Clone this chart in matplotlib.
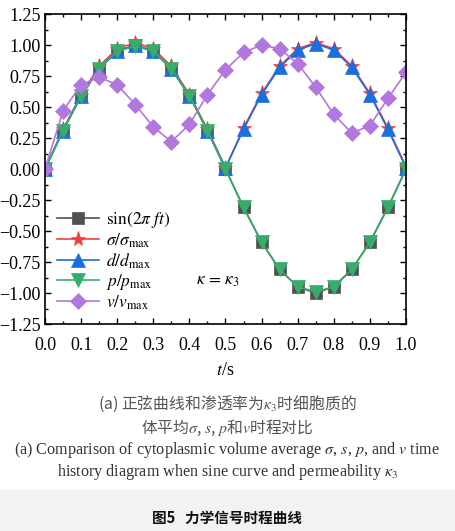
import numpy as np
import matplotlib.pyplot as plt
from matplotlib.ticker import MultipleLocator

plt.rcParams['font.family'] = ['Liberation Serif', 'DejaVu Serif']
plt.rcParams['mathtext.fontset'] = 'stix'

# time points (s)
t = [0.0, 0.05, 0.1, 0.15, 0.2, 0.25, 0.3, 0.35, 0.4, 0.45, 0.5,
     0.55, 0.6, 0.65, 0.7, 0.75, 0.8, 0.85, 0.9, 0.95, 1.0]

sin_vals = [0.0, 0.31, 0.59, 0.81, 0.95, 1.0, 0.95, 0.81, 0.59, 0.31, 0.0,
            -0.31, -0.59, -0.81, -0.95, -1.0, -0.95, -0.81, -0.59, -0.31, 0.0]
sigma = [0.0, 0.32, 0.60, 0.83, 0.97, 1.02, 0.97, 0.83, 0.60, 0.32, 0.01,
         0.33, 0.61, 0.83, 0.97, 1.02, 0.97, 0.83, 0.61, 0.33, 0.02]
d = [0.0, 0.31, 0.59, 0.81, 0.95, 1.0, 0.95, 0.81, 0.59, 0.31, 0.01,
     0.32, 0.60, 0.82, 0.96, 1.01, 0.96, 0.82, 0.60, 0.32, 0.01]
p = [0.0, 0.31, 0.59, 0.81, 0.95, 0.99, 0.95, 0.81, 0.59, 0.31, 0.0,
     -0.31, -0.59, -0.81, -0.95, -0.99, -0.95, -0.81, -0.59, -0.31, 0.0]
v = [0.0, 0.47, 0.68, 0.74, 0.68, 0.52, 0.34, 0.22, 0.36, 0.60, 0.80,
     0.94, 1.00, 0.97, 0.85, 0.66, 0.44, 0.29, 0.35, 0.57, 0.78]

labels = [r'$\sin(2\pi\ ft)$', r'$\sigma/\sigma_{\rm max}$', r'$d/d_{\rm max}$',
          r'$p/p_{\rm max}$', r'$v/v_{\rm max}$']
colors = ['#515151', '#F14040', '#1A6FDF', '#37AD6B', '#B177DE']
markers = ['s', '*', '^', 'v', 'D']
msizes = [8, 11, 9.5, 9.5, 8]

fig = plt.figure(figsize=(4.55, 5.31), dpi=100)
ax = fig.add_axes([0.0989, 0.3898, 0.7934, 0.5838])

for y, lab, c, m, ms in zip([sin_vals, sigma, d, p, v], labels, colors, markers, msizes):
    ax.plot(t, y, color=c, marker=m, markersize=ms, lw=1.2, label=lab,
            markeredgewidth=0.5, markeredgecolor=c)

ax.set_xlim(0, 1.0)
ax.set_ylim(-1.25, 1.25)
ax.xaxis.set_major_locator(MultipleLocator(0.1))
ax.xaxis.set_minor_locator(MultipleLocator(0.05))
ax.yaxis.set_major_locator(MultipleLocator(0.25))
ax.yaxis.set_minor_locator(MultipleLocator(0.125))
ax.xaxis.set_major_formatter(plt.FuncFormatter(lambda val, pos: f'{val:.1f}'))
ax.yaxis.set_major_formatter(plt.FuncFormatter(lambda val, pos: f'{val:.2f}'.replace('-', '\u2212')))
ax.tick_params(which='both', direction='in', top=True, right=True, labelsize=13, width=1)
ax.tick_params(axis='x', pad=9)
ax.tick_params(axis='y', pad=3)
ax.tick_params(which='major', length=4)
ax.tick_params(which='minor', length=2.5)
for s in ax.spines.values():
    s.set_linewidth(1.2)

ax.set_xlabel(r'$t$/s', fontsize=13, labelpad=6)
ax.text(0.48, -0.9, r'$\kappa\,=\,\kappa_3$', fontsize=12.5, ha='center', va='center')

ax.legend(loc='lower left', bbox_to_anchor=(0.0, 0.0), frameon=False, fontsize=12.5,
          handlelength=2.4, labelspacing=0.08, handletextpad=0.4, borderaxespad=0.3)

cn = ['Noto Sans CJK SC', 'DejaVu Sans']
fig.text(0.5, 1 - 404 / 531, r'(a) 正弦曲线和渗透率为$\kappa_3$时细胞质的', family=cn,
         fontsize=11.4, color='#555555', ha='center', va='center')
fig.text(0.5, 1 - 428 / 531, r'体平均$\sigma$, $s$, $p$和$v$时程对比', family=cn,
         fontsize=11.4, color='#555555', ha='center', va='center')
fig.text(0.5, 1 - 450 / 531,
         r'(a) Comparison of cytoplasmic volume average $\sigma$, $s$, $p$, and $v$ time',
         fontsize=11.6, color='#333333', ha='center', va='center')
fig.text(0.5, 1 - 472 / 531,
         r'history diagram when sine curve and permeability $\kappa_3$',
         fontsize=11.6, color='#333333', ha='center', va='center')

fig.patches.append(plt.Rectangle((0, 0), 1, 41 / 531, transform=fig.transFigure,
                                 color='#f2f2f2', zorder=0))
fig.text(0.5, 1 - 518 / 531, '图5   力学信号时程曲线', family=cn, fontweight='bold',
         fontsize=10.5, color='#111111', ha='center', va='center')

fig.savefig('out.png', dpi=100)
